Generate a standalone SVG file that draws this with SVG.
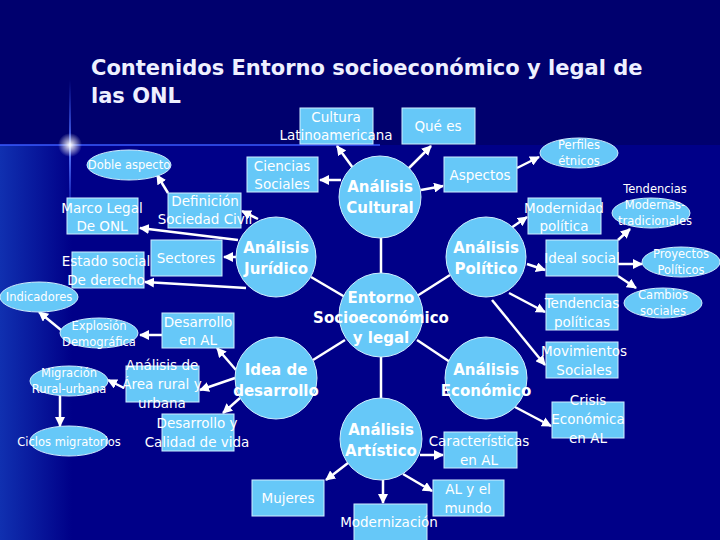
<svg xmlns="http://www.w3.org/2000/svg" width="720" height="540" viewBox="0 0 720 540">
<defs>
<style>
.n{fill:#66c8f8;stroke:#cfeeff;stroke-width:1}
.t{fill:#fff;font-family:"DejaVu Sans",sans-serif;font-size:13.5px;text-anchor:middle}
.s{font-size:11.5px}
.b{font-weight:bold;font-size:15px}
#c line{stroke:#fff;stroke-width:2.5}
#c .a{marker-end:url(#m)}
</style>
<marker id="m" viewBox="0 0 10 10" refX="9" refY="5" markerWidth="4" markerHeight="4" orient="auto"><path d="M0 0L10 5L0 10z" fill="#fff"/></marker>
<linearGradient id="lg" x1="0" x2="1" y1="0" y2="0"><stop offset="0" stop-color="#1030b0"/><stop offset="1" stop-color="#000088"/></linearGradient>
<linearGradient id="vl" x1="0" x2="0" y1="0" y2="1"><stop offset="0" stop-color="#3a5aff" stop-opacity="0"/><stop offset="0.5" stop-color="#5a7aff"/><stop offset="1" stop-color="#3a5aff" stop-opacity="0"/></linearGradient>
<radialGradient id="fl"><stop offset="0" stop-color="#fff"/><stop offset="1" stop-color="#fff" stop-opacity="0"/></radialGradient>
</defs>
<rect width="720" height="540" fill="#000088"/>
<rect width="720" height="145" fill="#00006e"/>
<rect x="0" y="145" width="72" height="395" fill="url(#lg)"/>
<line x1="0" y1="145" x2="380" y2="145" stroke="#3a5aff" stroke-width="1.5"/>
<rect x="69" y="80" width="2" height="140" fill="url(#vl)"/>
<circle cx="70" cy="145" r="12" fill="url(#fl)"/>
<g id="title" fill="#eef0ff" font-family="DejaVu Sans,sans-serif" font-weight="bold" font-size="21">
<text x="91" y="75">Contenidos Entorno socioeconómico y legal de</text>
<text x="91" y="103">las ONL</text>
</g>
<g id="c">
<line x1="311" y1="277" x2="345" y2="297"/>
<line x1="381" y1="238" x2="381" y2="273"/>
<line x1="450" y1="275" x2="417" y2="296"/>
<line x1="313" y1="360" x2="345" y2="340"/>
<line x1="450" y1="362" x2="417" y2="340"/>
<line x1="381" y1="357" x2="381" y2="398"/>
<line class="a" x1="258" y1="219" x2="242" y2="211"/>
<line class="a" x1="168" y1="193" x2="157" y2="175"/>
<line class="a" x1="238" y1="240" x2="140" y2="228"/>
<line class="a" x1="236" y1="257" x2="224" y2="257"/>
<line class="a" x1="246" y1="288" x2="145" y2="282"/>
<line class="a" x1="353" y1="168" x2="337" y2="146"/>
<line class="a" x1="341" y1="180" x2="320" y2="180"/>
<line class="a" x1="409" y1="168" x2="431" y2="146"/>
<line class="a" x1="421" y1="190" x2="443" y2="186"/>
<line class="a" x1="517" y1="168" x2="539" y2="157"/>
<line class="a" x1="511" y1="228" x2="527" y2="217"/>
<line class="a" x1="527" y1="264" x2="545" y2="270"/>
<line class="a" x1="509" y1="293" x2="545" y2="312"/>
<line class="a" x1="492" y1="300" x2="545" y2="365"/>
<line class="a" x1="618" y1="240" x2="630" y2="229"/>
<line class="a" x1="618" y1="264" x2="642" y2="264"/>
<line class="a" x1="618" y1="276" x2="636" y2="288"/>
<line class="a" x1="515" y1="407" x2="551" y2="426"/>
<line class="a" x1="420" y1="455" x2="443" y2="455"/>
<line class="a" x1="348" y1="463" x2="326" y2="480"/>
<line class="a" x1="383" y1="480" x2="383" y2="503"/>
<line class="a" x1="403" y1="474" x2="432" y2="491"/>
<line class="a" x1="236" y1="370" x2="217" y2="348"/>
<line class="a" x1="235" y1="378" x2="200" y2="390"/>
<line class="a" x1="240" y1="398" x2="223" y2="413"/>
<line class="a" x1="124" y1="388" x2="108" y2="380"/>
<line class="a" x1="61" y1="330" x2="39" y2="312"/>
<line class="a" x1="60" y1="396" x2="60" y2="426"/>
<line class="a" x1="162" y1="335" x2="140" y2="335"/>
</g>
<g id="entorno"><circle class="n" cx="381" cy="315" r="42"/><text class="t b" x="381" y="303">Entorno</text><text class="t b" x="381" y="323">Socioeconómico</text><text class="t b" x="381" y="343">y legal</text></g>
<g id="juridico"><circle class="n" cx="276" cy="257" r="40"/><text class="t b" x="276" y="253">Análisis</text><text class="t b" x="276" y="274">Jurídico</text></g>
<g id="cultural"><circle class="n" cx="380" cy="197" r="41"/><text class="t b" x="380" y="192">Análisis</text><text class="t b" x="380" y="213">Cultural</text></g>
<g id="politico"><circle class="n" cx="486" cy="257" r="40"/><text class="t b" x="486" y="253">Análisis</text><text class="t b" x="486" y="274">Político</text></g>
<g id="idea"><circle class="n" cx="276" cy="378" r="41"/><text class="t b" x="276" y="375">Idea de</text><text class="t b" x="276" y="396">desarrollo</text></g>
<g id="economico"><circle class="n" cx="486" cy="378" r="41"/><text class="t b" x="486" y="375">Análisis</text><text class="t b" x="486" y="396">Económico</text></g>
<g id="artistico"><circle class="n" cx="381" cy="439" r="41"/><text class="t b" x="381" y="435">Análisis</text><text class="t b" x="381" y="456">Artístico</text></g>
<g id="cultura"><rect class="n" x="300" y="108" width="73" height="36"/><text class="t" x="336" y="122">Cultura</text><text class="t" x="336" y="140">Latinoamericana</text></g>
<g id="quees"><rect class="n" x="402" y="108" width="73" height="36"/><text class="t" x="438" y="131">Qué es</text></g>
<g id="doble"><ellipse class="n" cx="129" cy="165" rx="42" ry="15"/><text class="t s" x="129" y="169">Doble aspecto</text></g>
<g id="ciencias"><rect class="n" x="247" y="157" width="71" height="35"/><text class="t" x="282" y="171">Ciencias</text><text class="t" x="282" y="189">Sociales</text></g>
<g id="definicion"><rect class="n" x="168" y="193" width="73" height="35"/><text class="t" x="205" y="206">Definición</text><text class="t" x="205" y="224">Sociedad Civil</text></g>
<g id="marco"><rect class="n" x="67" y="198" width="71" height="36"/><text class="t" x="102" y="213">Marco Legal</text><text class="t" x="102" y="231">De ONL</text></g>
<g id="sectores"><rect class="n" x="151" y="240" width="71" height="36"/><text class="t" x="186" y="263">Sectores</text></g>
<g id="estado"><rect class="n" x="72" y="252" width="72" height="36"/><text class="t" x="106" y="266">Estado social</text><text class="t" x="106" y="285">De derecho</text></g>
<g id="indicadores"><ellipse class="n" cx="39" cy="297" rx="39" ry="15"/><text class="t s" x="39" y="301">Indicadores</text></g>
<g id="desAL"><rect class="n" x="162" y="313" width="72" height="35"/><text class="t" x="198" y="327">Desarrollo</text><text class="t" x="198" y="345">en AL</text></g>
<g id="explosion"><ellipse class="n" cx="99" cy="333" rx="39" ry="15"/><text class="t s" x="99" y="330">Explosión</text><text class="t s" x="99" y="346">Demográfica</text></g>
<g id="area"><rect class="n" x="126" y="366" width="73" height="36"/><text class="t" x="162" y="370">Análisis de</text><text class="t" x="162" y="389">Área rural y</text><text class="t" x="162" y="408">urbana</text></g>
<g id="migracion"><ellipse class="n" cx="69" cy="381" rx="39" ry="15"/><text class="t s" x="69" y="377">Migración</text><text class="t s" x="69" y="393">Rural-urbana</text></g>
<g id="ciclos"><ellipse class="n" cx="69" cy="441" rx="39" ry="15"/><text class="t s" x="69" y="446">Ciclos migratorios</text></g>
<g id="calidad"><rect class="n" x="162" y="414" width="72" height="37"/><text class="t" x="197" y="428">Desarrollo y</text><text class="t" x="197" y="447">Calidad de vida</text></g>
<g id="mujeres"><rect class="n" x="252" y="480" width="72" height="36"/><text class="t" x="288" y="503">Mujeres</text></g>
<g id="modern"><rect class="n" x="354" y="504" width="73" height="40"/><text class="t" x="389" y="527">Modernización</text></g>
<g id="almundo"><rect class="n" x="433" y="480" width="71" height="36"/><text class="t" x="468" y="494">AL y el</text><text class="t" x="468" y="513">mundo</text></g>
<g id="caract"><rect class="n" x="444" y="432" width="73" height="36"/><text class="t" x="479" y="446">Características</text><text class="t" x="479" y="465">en AL</text></g>
<g id="crisis"><rect class="n" x="552" y="402" width="72" height="36"/><text class="t" x="588" y="405">Crisis</text><text class="t" x="588" y="424">Económica</text><text class="t" x="588" y="443">en AL</text></g>
<g id="aspectos"><rect class="n" x="444" y="157" width="73" height="35"/><text class="t" x="480" y="180">Aspectos</text></g>
<g id="perfiles"><ellipse class="n" cx="579" cy="153" rx="39" ry="15"/><text class="t s" x="579" y="149">Perfiles</text><text class="t s" x="579" y="165">étnicos</text></g>
<g id="modpol"><rect class="n" x="528" y="198" width="73" height="36"/><text class="t" x="564" y="213">Modernidad</text><text class="t" x="564" y="231">política</text></g>
<g id="tendmod"><ellipse class="n" cx="651" cy="213" rx="39" ry="15"/><text class="t s" x="655" y="193">Tendencias</text><text class="t s" x="655" y="209">Modernas-</text><text class="t s" x="655" y="225">tradicionales</text></g>
<g id="ideal"><rect class="n" x="546" y="240" width="72" height="36"/><text class="t" x="582" y="263">Ideal social</text></g>
<g id="proyectos"><ellipse class="n" cx="681" cy="262" rx="39" ry="15"/><text class="t s" x="681" y="258">Proyectos</text><text class="t s" x="681" y="274">Políticos</text></g>
<g id="cambios"><ellipse class="n" cx="663" cy="303" rx="39" ry="15"/><text class="t s" x="663" y="299">Cambios</text><text class="t s" x="663" y="315">sociales</text></g>
<g id="tendpol"><rect class="n" x="546" y="294" width="72" height="36"/><text class="t" x="582" y="308">Tendencias</text><text class="t" x="582" y="327">políticas</text></g>
<g id="movim"><rect class="n" x="546" y="342" width="72" height="36"/><text class="t" x="584" y="356">Movimientos</text><text class="t" x="584" y="375">Sociales</text></g>
</svg>
